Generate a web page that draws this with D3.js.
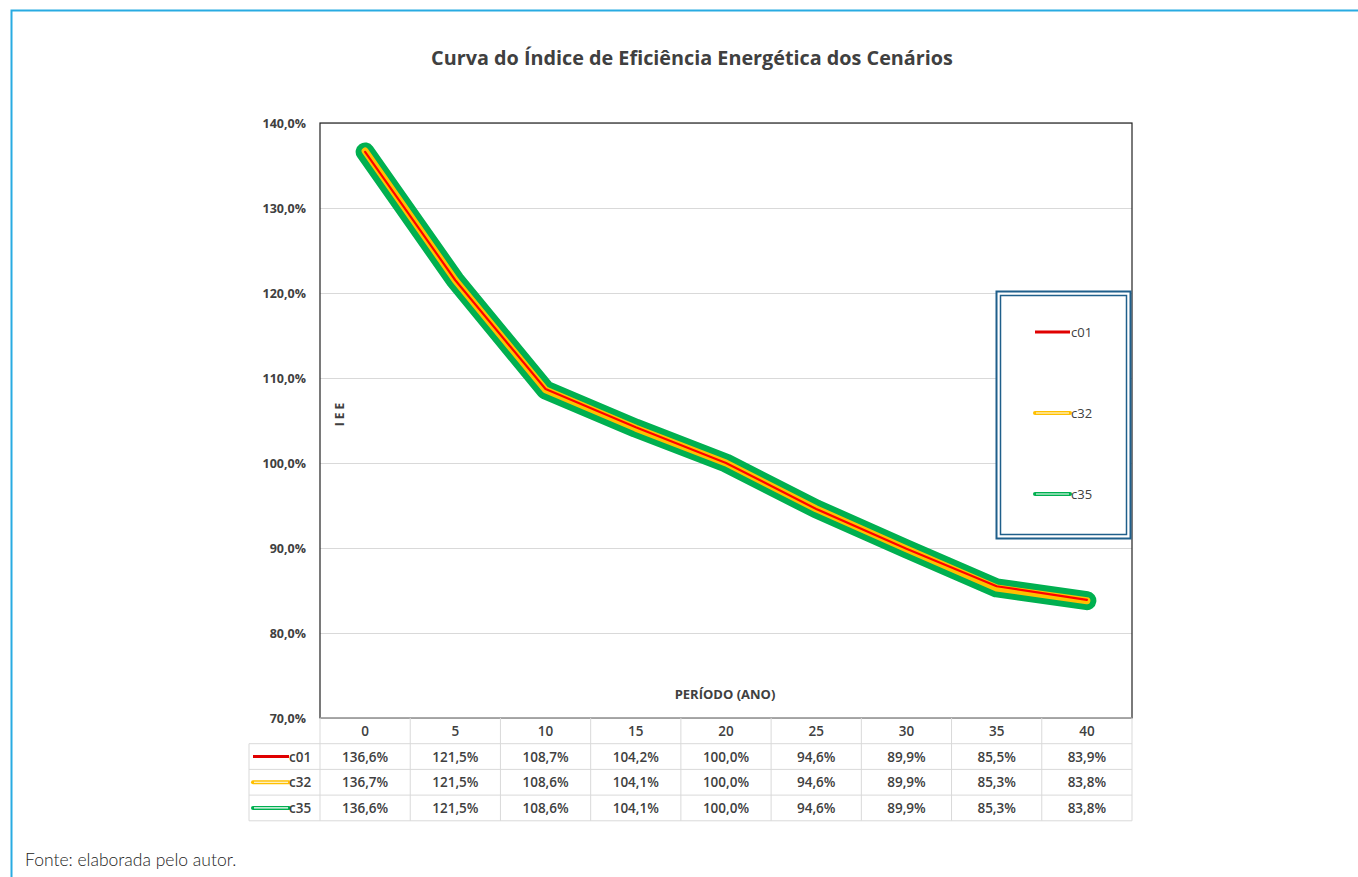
<!DOCTYPE html>
<html>
<head>
<meta charset="utf-8">
<script src="https://cdn.jsdelivr.net/npm/d3@7"></script>
<style>
  body { margin: 0; background: #fff; }
  svg { display: block; }
</style>
</head>
<body>
<div id="canvas"></div>
<script>
// dados do gráfico
const periods = [0, 5, 10, 15, 20, 25, 30, 35, 40];
const c01 = [136.6, 121.5, 108.7, 104.2, 100.0, 94.6, 89.9, 85.5, 83.9];
const c32 = [136.7, 121.5, 108.6, 104.1, 100.0, 94.6, 89.9, 85.3, 83.8];
const c35 = [136.6, 121.5, 108.6, 104.1, 100.0, 94.6, 89.9, 85.3, 83.8];
const seriesNames = ["c01", "c32", "c35"];
const yTicks = [70, 80, 90, 100, 110, 120, 130, 140];

const width = 1358, height = 877;
const margin = { top: 123, left: 320, bottom: 159, right: 226 };
const iwidth = width - margin.left - margin.right;
const iheight = height - margin.top - margin.bottom;
const font = "Open Sans, sans-serif";
const fmt = v => d3.format(".1f")(v).replace(".", ",") + "%";

const svg = d3.select("#canvas").append("svg")
  .attr("width", width).attr("height", height);

// moldura azul
svg.append("path")
  .attr("d", `M11.5,${height} V10.5 H${width}`)
  .attr("fill", "none").attr("stroke", "#29abe2").attr("stroke-width", 2);

svg.append("text")
  .attr("x", 692).attr("y", 65)
  .attr("text-anchor", "middle")
  .style("font-family", font).style("font-weight", "bold")
  .style("font-size", "19.8px").style("fill", "#404040")
  .text("Curva do Índice de Eficiência Energética dos Cenários");

const g = svg.append("g").attr("transform", `translate(${margin.left},${margin.top})`);

const x = d3.scaleBand().domain(periods).range([0, iwidth]);
const y = d3.scaleLinear().domain([70, 140]).range([iheight, 0]);

// grade
g.append("g")
  .call(d3.axisLeft(y).tickValues(yTicks).tickSize(-iwidth).tickFormat(""))
  .call(a => a.select(".domain").remove())
  .call(a => a.selectAll("line").attr("stroke", "#d9d9d9"));

g.append("g")
  .call(d3.axisLeft(y).tickValues(yTicks).tickSize(0).tickPadding(14).tickFormat(d => fmt(d)))
  .call(a => a.select(".domain").remove())
  .call(a => a.selectAll("text")
    .style("font-family", font).style("font-weight", "bold")
    .style("font-size", "12.5px").style("fill", "#404040"));

g.append("rect")
  .attr("x", 0).attr("y", 0).attr("width", iwidth).attr("height", iheight)
  .attr("fill", "none").attr("stroke", "#222").attr("stroke-width", 1.2);

// títulos dos eixos
g.append("text")
  .attr("transform", `translate(${24},${290}) rotate(-90)`)
  .attr("text-anchor", "middle")
  .style("font-family", font).style("font-weight", "bold")
  .style("font-size", "12px").style("fill", "#404040")
  .style("letter-spacing", "3px")
  .text("IEE");

g.append("text")
  .attr("x", iwidth / 2 - 1).attr("y", 576)
  .attr("text-anchor", "middle")
  .style("font-family", font).style("font-weight", "bold")
  .style("font-size", "13px").style("fill", "#404040")
  .text("PERÍODO  (ANO)");

// linhas
const line = d3.line().x((d, i) => x(periods[i]) + x.bandwidth() / 2).y(d => y(d));
const layers = [
  { data: c35, color: "#00b050", w: 19 },
  { data: c32, color: "#ffc000", w: 7 },
  { data: c01, color: "#ff0000", w: 2.2 }
];
layers.forEach(l => {
  g.append("path").datum(l.data)
    .attr("d", line)
    .attr("fill", "none").attr("stroke", l.color).attr("stroke-width", l.w)
    .attr("stroke-linecap", "round").attr("stroke-linejoin", "round");
});

// símbolos de legenda
function legendSym(sel, name, x0, y0, len) {
  if (name === "c01") {
    sel.append("line").attr("x1", x0).attr("x2", x0 + len).attr("y1", y0).attr("y2", y0)
      .attr("stroke", "#e00000").attr("stroke-width", 3);
  } else {
    const c = name === "c32" ? "#ffc000" : "#00b050";
    sel.append("line").attr("x1", x0).attr("x2", x0 + len).attr("y1", y0).attr("y2", y0)
      .attr("stroke", c).attr("stroke-width", 4).attr("stroke-linecap", "round");
    sel.append("line").attr("x1", x0 + 1).attr("x2", x0 + len - 1).attr("y1", y0).attr("y2", y0)
      .attr("stroke", "#fff").attr("stroke-width", 1.2);
  }
}

// legenda
const lg = svg.append("g");
lg.append("rect").attr("x", 996.5).attr("y", 291.5).attr("width", 134).attr("height", 247)
  .attr("fill", "#fff").attr("stroke", "#1f5f8b").attr("stroke-width", 2);
lg.append("rect").attr("x", 1000.5).attr("y", 295.5).attr("width", 126).attr("height", 239)
  .attr("fill", "none").attr("stroke", "#1f5f8b").attr("stroke-width", 1.5);
const legY = [332, 413, 494];
seriesNames.forEach((n, i) => {
  legendSym(lg, n, 1035, legY[i], 35);
  lg.append("text").attr("x", 1071).attr("y", legY[i] + 4.5)
    .style("font-family", font).style("font-size", "13px").style("fill", "#404040")
    .text(n);
});

// tabela de dados
const t = svg.append("g");
const rowTop = 718, rowH = 25.7;
const tableLeft = 249;
const gridC = "#d9d9d9";
[0, 1, 2, 3, 4].forEach(r => {
  const yy = rowTop + r * rowH;
  t.append("line").attr("x1", r === 0 ? margin.left : tableLeft).attr("x2", margin.left + iwidth)
    .attr("y1", yy).attr("y2", yy).attr("stroke", gridC);
});
periods.forEach(p => {
  t.append("line").attr("x1", margin.left + x(p)).attr("x2", margin.left + x(p))
    .attr("y1", rowTop).attr("y2", rowTop + 4 * rowH).attr("stroke", gridC);
});
t.append("line").attr("x1", margin.left + iwidth).attr("x2", margin.left + iwidth)
  .attr("y1", rowTop).attr("y2", rowTop + 4 * rowH).attr("stroke", gridC);
t.append("line").attr("x1", tableLeft).attr("x2", tableLeft)
  .attr("y1", rowTop + rowH).attr("y2", rowTop + 4 * rowH).attr("stroke", gridC);

const txt = (xx, yy, s) => t.append("text").attr("x", xx).attr("y", yy)
  .attr("text-anchor", "middle")
  .style("font-family", font).style("font-weight", 600)
  .style("font-size", "13.5px").style("fill", "#404040").text(s);

periods.forEach(p => txt(margin.left + x(p) + x.bandwidth() / 2, rowTop + 18, p));
[c01, c32, c35].forEach((arr, r) => {
  const yy = rowTop + (r + 1) * rowH;
  arr.forEach((v, i) => txt(margin.left + x(periods[i]) + x.bandwidth() / 2, yy + 18, fmt(v)));
  legendSym(t, seriesNames[r], 253, yy + rowH / 2, 36);
  t.append("text").attr("x", 289).attr("y", yy + 18)
    .style("font-family", font).style("font-weight", 600)
    .style("font-size", "13.5px").style("fill", "#404040").text(seriesNames[r]);
});

// fonte
svg.append("text").attr("x", 25).attr("y", 866)
  .style("font-family", "Lato, sans-serif").style("font-weight", 300)
  .style("font-size", "17.5px").style("fill", "#222")
  .text("Fonte: elaborada pelo autor.");
</script>
</body>
</html>
